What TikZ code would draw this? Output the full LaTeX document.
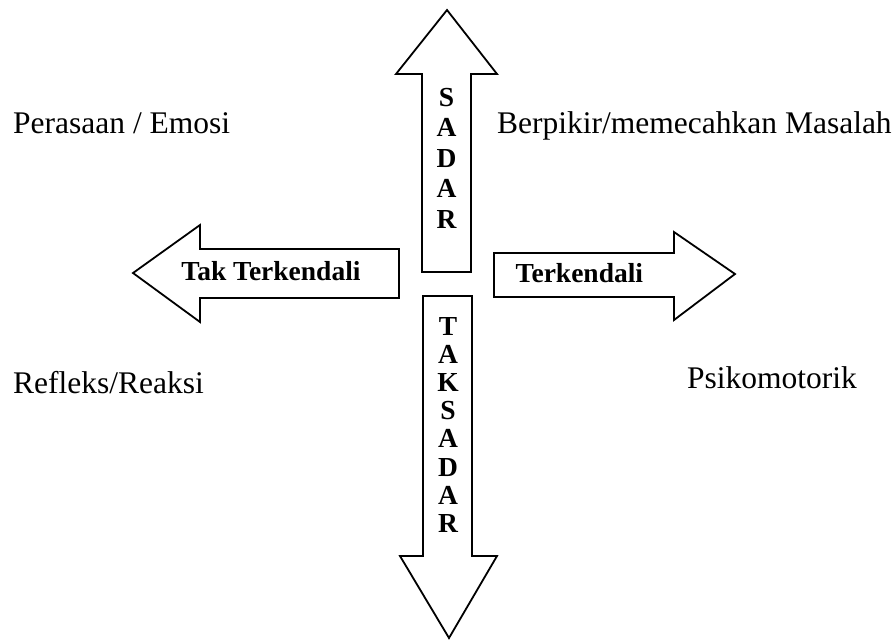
\documentclass[tikz,border=0pt]{standalone}
\usepackage{fontspec}
\setmainfont{Liberation Serif}
\begin{document}
\begin{tikzpicture}[x=1pt,y=-1pt,
  blockarrow/.style={draw=black,line width=1.8pt,fill=white,line join=miter},
  lbl/.style={font=\fontsize{31.5}{36}\selectfont,inner sep=0pt,anchor=base west},
  blbl/.style={font=\bfseries\fontsize{27.5}{30}\selectfont,inner sep=0pt,anchor=base}]
\useasboundingbox (0,0) rectangle (896,641);
% up arrow
\draw[blockarrow] (422,272) -- (422,74) -- (396,74) -- (447,10) -- (497,74) -- (471,74) -- (471,272) -- cycle;
% down arrow
\draw[blockarrow] (423,296) -- (423,556) -- (400,556) -- (449,638) -- (497,556) -- (472,556) -- (472,296) -- cycle;
% left arrow
\draw[blockarrow] (399,249) -- (200,249) -- (200,225) -- (133,273) -- (200,322) -- (200,298) -- (399,298) -- cycle;
% right arrow
\draw[blockarrow] (494,253) -- (674,253) -- (674,232) -- (735,274) -- (674,320) -- (674,297) -- (494,297) -- cycle;
% vertical labels
\foreach \c [count=\i from 0] in {S,A,D,A,R}
  \node[blbl] (up\i) at (446.5,106+30.5*\i) {\c};
\foreach \c [count=\i from 0] in {T,A,K,S,A,D,A,R}
  \node[blbl] (dn\i) at (448,335+28.2*\i) {\c};
% horizontal arrow labels
\node[blbl] (tak) at (271,280) {Tak Terkendali};
\node[blbl,anchor=base west] (ter) at (515.5,282) {Terkendali};
% quadrant labels
\node[lbl] (emosi) at (13,133) {Perasaan / Emosi};
\node[lbl] (pikir) at (497,133) {Berpikir/memecahkan Masalah};
\node[lbl] (refleks) at (13,393) {Refleks/Reaksi};
\node[lbl] (psiko) at (687,388) {Psikomotorik};
\end{tikzpicture}
\end{document}
